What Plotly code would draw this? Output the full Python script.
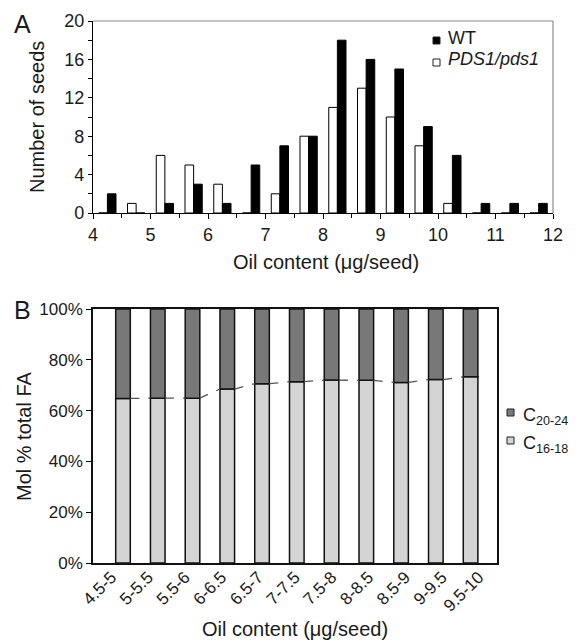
import plotly.graph_objects as go

FONT = "Liberation Sans, Arial, sans-serif"
TXT = "#1a1a1a"
# page body has an 8px margin, so the figure is drawn 8px in from the window edge
PAGE_OFF = 8
W, H = 586 - PAGE_OFF, 644 - PAGE_OFF

# ---------- Panel A data ----------
bin_centers = [4.25, 4.75, 5.25, 5.75, 6.25, 6.75, 7.25, 7.75,
               8.25, 8.75, 9.25, 9.75, 10.25, 10.75, 11.25, 11.75]
wt_counts = [2, 0, 1, 3, 1, 5, 7, 8, 18, 16, 15, 9, 6, 1, 1, 1]
pds1_counts = [0, 1, 6, 5, 3, 0, 2, 8, 11, 13, 10, 7, 1, 0, 0, 0]
a_ticks = list(range(4, 13))
a_yticks = list(range(0, 21, 4))

# ---------- Panel B data ----------
oil_classes = ["4.5-5", "5-5.5", "5.5-6", "6-6.5", "6.5-7", "7-7.5",
               "7.5-8", "8-8.5", "8.5-9", "9-9.5", "9.5-10"]
c16_18 = [64.8, 64.9, 64.9, 68.5, 70.6, 71.4, 72.0, 71.9, 71.1, 72.2, 73.3]
c20_24 = [round(100 - v, 1) for v in c16_18]
b_yticks = list(range(0, 101, 20))
b_yticklabels = [f"{v}%" for v in b_yticks]

bar_w_a = 0.15
bar_w_b = 0.42
C_DARK = "#787878"
C_LIGHT = "#d4d4d4"


def px_x(p):
    return (p - PAGE_OFF) / W


def px_y(p):
    return 1 - (p - PAGE_OFF) / H


fig = go.Figure()

# Panel A bars
fig.add_trace(go.Bar(
    x=bin_centers, y=pds1_counts, name="PDS1/pds1",
    width=bar_w_a, offset=-bar_w_a,
    marker=dict(color="white", line=dict(color="black", width=1)),
    xaxis="x", yaxis="y", showlegend=False,
))
fig.add_trace(go.Bar(
    x=bin_centers, y=wt_counts, name="WT",
    width=bar_w_a, offset=0,
    marker=dict(color="black", line=dict(color="black", width=1)),
    xaxis="x", yaxis="y", showlegend=False,
))

# Panel B stacked bars (numeric x = bar index)
xb = list(range(len(oil_classes)))
fig.add_trace(go.Bar(
    x=xb, y=c16_18, name="C16-18", width=bar_w_b,
    marker=dict(color=C_LIGHT, line=dict(color="#111111", width=1.5)),
    xaxis="x2", yaxis="y2", showlegend=False,
))
fig.add_trace(go.Bar(
    x=xb, y=c20_24, base=c16_18, name="C20-24", width=bar_w_b,
    marker=dict(color=C_DARK, line=dict(color="#111111", width=1.5)),
    xaxis="x2", yaxis="y2", showlegend=False,
))

# dashed series lines between bars
lx, ly = [], []
for i in range(len(oil_classes) - 1):
    lx += [xb[i] + bar_w_b / 2, xb[i + 1] - bar_w_b / 2, None]
    ly += [c16_18[i], c16_18[i + 1], None]
fig.add_trace(go.Scatter(
    x=lx, y=ly, mode="lines", line=dict(color="#555555", width=1.3, dash="dash"),
    showlegend=False, xaxis="x2", yaxis="y2", hoverinfo="skip",
))

# invisible carrier for the category label axis of panel B
fig.add_trace(go.Scatter(
    x=oil_classes, y=c16_18, mode="markers", marker=dict(opacity=0),
    showlegend=False, xaxis="x3", yaxis="y2", hoverinfo="skip",
))

tickfont_a = dict(family=FONT, size=18, color=TXT)
tickfont_b = dict(family=FONT, size=17, color=TXT)

fig.update_layout(
    width=W, height=H,
    margin=dict(l=0, r=0, t=0, b=0, autoexpand=False),
    paper_bgcolor="white", plot_bgcolor="white",
    barmode="overlay", showlegend=False,
    font=dict(family=FONT, color=TXT),
    xaxis=dict(
        domain=[px_x(93), px_x(553)], anchor="y",
        range=[4, 12], tickvals=a_ticks,
        ticks="outside", ticklen=5, tickcolor="black", tickwidth=1,
        minor=dict(dtick=0.5, ticks="outside", ticklen=4, tickcolor="black"),
        showline=True, linecolor="black", linewidth=1.2,
        showgrid=False, zeroline=False, tickfont=tickfont_a,
        automargin=False,
    ),
    yaxis=dict(
        domain=[px_y(213), px_y(21)], anchor="x",
        range=[0, 20], tickvals=a_yticks,
        ticks="outside", ticklen=4, tickcolor="black", tickwidth=1,
        minor=dict(dtick=2, ticks="outside", ticklen=4, tickcolor="black"),
        showline=True, linecolor="black", linewidth=1.2,
        showgrid=False, zeroline=False, tickfont=tickfont_a,
        automargin=False,
    ),
    xaxis2=dict(
        domain=[px_x(93), px_x(497)], anchor="y2",
        range=[-0.863, 10.76], showticklabels=False, ticks="",
        showline=True, mirror=True, linecolor="#111111", linewidth=1.5,
        showgrid=False, zeroline=False, automargin=False,
    ),
    xaxis3=dict(
        overlaying="x2", anchor="y2", side="bottom",
        type="category", range=[-0.5, 10.5],
        tickangle=-45, ticks="", showline=False,
        showgrid=False, zeroline=False, tickfont=tickfont_b,
        automargin=False,
    ),
    yaxis2=dict(
        domain=[px_y(563), px_y(309)], anchor="x2",
        range=[0, 100], tickvals=b_yticks, ticktext=b_yticklabels,
        ticks="outside", ticklen=5, tickcolor="black",
        showline=True, mirror=True, linecolor="#111111", linewidth=1.5,
        showgrid=False, zeroline=False, tickfont=tickfont_b,
        automargin=False,
    ),
)

# gray frame top/right of panel A
fig.add_shape(type="line", xref="paper", yref="paper",
              x0=px_x(93), x1=px_x(553), y0=px_y(21), y1=px_y(21),
              line=dict(color="#8c8c8c", width=1.2))
fig.add_shape(type="line", xref="paper", yref="paper",
              x0=px_x(553), x1=px_x(553), y0=px_y(21), y1=px_y(213),
              line=dict(color="#8c8c8c", width=1.2))

# legend keys (small squares)
keys = [
    (433, 37, "black"),
    (433, 59, "white"),
    (507, 409, C_DARK),
    (507, 437, C_LIGHT),
]
for kx, ky, col in keys:
    fig.add_shape(type="rect", xref="paper", yref="paper",
                  x0=px_x(kx), x1=px_x(kx + 7), y0=px_y(ky + 7), y1=px_y(ky),
                  fillcolor=col, line=dict(color="#222222", width=1))

annots = [
    dict(text="A", x=22, y=24, size=25),
    dict(text="B", x=22, y=310, size=25),
    dict(text="Number of seeds", x=37, y=117, size=20, angle=-90),
    dict(text="Oil content (\u03bcg/seed)", x=326, y=262, size=20),
    dict(text="Mol % total FA", x=24, y=436, size=20, angle=-90),
    dict(text="Oil content (\u03bcg/seed)", x=295, y=629, size=20),
    dict(text="WT", x=446, y=38, size=18, anchor="left"),
    dict(text="<i>PDS1/pds1</i>", x=446, y=59, size=18, anchor="left"),
    dict(text="C<sub>20-24</sub>", x=521, y=416, size=18, anchor="left"),
    dict(text="C<sub>16-18</sub>", x=521, y=444, size=18, anchor="left"),
]
for a in annots:
    fig.add_annotation(
        text=a["text"], x=px_x(a["x"]), y=px_y(a["y"]), xref="paper", yref="paper",
        xanchor=a.get("anchor", "center"), yanchor="middle", showarrow=False,
        textangle=a.get("angle", 0),
        font=dict(family=FONT, size=a["size"], color=TXT),
    )

fig.write_html("out.html")
